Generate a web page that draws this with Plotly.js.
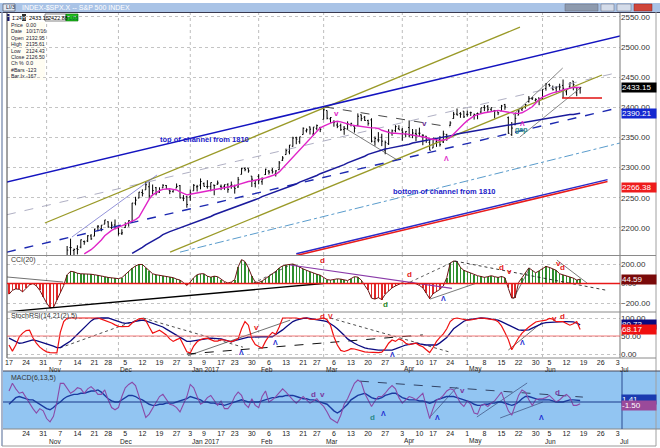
<!DOCTYPE html>
<html><head><meta charset="utf-8">
<script src="https://cdn.plot.ly/plotly-3.0.1.min.js"></script>
<style>html,body{margin:0;padding:0;background:#fff;overflow:hidden}#chart{width:660px;height:448px}</style>
</head><body><div id="chart"></div>
<script>
// ---------------- DATA (S&P 500 daily, 10/17/2016 - 6/16/2017, trading-day index) ----------------
const open=[2132.95,2138.31,2140.81,2142.51,2139.43,2148.50,2149.72,2136.97,2144.06,2132.23,2129.78,
2128.68,2109.43,2098.80,2083.79,2100.59,2129.92,2131.56,2167.49,2162.71,2165.64,2168.29,2177.53,2178.61,2186.85,2186.43,2201.56,2198.55,2206.27,2210.21,2200.76,2204.97,
2200.17,2191.12,2200.65,2207.26,2210.72,2241.13,2249.73,2258.83,2263.32,2268.35,2253.77,2266.81,2259.24,2266.50,2270.54,2262.93,2260.25,2266.23,2270.23,2249.50,2251.61,
2251.57,2261.60,2268.18,2271.14,2273.59,2268.59,2268.60,2271.14,2272.74,2269.14,2269.14,2271.90,2269.96,2267.78,2267.88,2288.88,2298.63,2299.02,2286.01,2274.02,
2285.59,2276.69,2288.54,2294.28,2295.87,2289.55,2296.70,2312.27,2321.72,2326.12,2335.58,2349.64,2343.01,2354.91,2361.11,2367.50,2355.73,2365.23,2366.08,
2380.13,2394.75,2380.92,2375.23,2370.74,2369.81,2363.49,2372.52,2371.56,2368.55,2370.34,2387.71,2383.71,2378.24,2379.32,2343.00,2345.97,2350.42,2329.11,2339.79,2356.54,2361.31,2364.82,
2362.34,2354.76,2366.59,2353.79,2356.59,2357.16,2353.92,2352.15,2341.98,2332.62,2342.53,2346.79,2342.69,2354.74,2370.33,2381.51,2388.98,2389.70,2393.68,
2388.50,2391.05,2386.50,2389.79,2392.37,2399.94,2401.58,2396.79,2394.84,2392.44,2393.98,2404.55,2382.95,2354.69,2371.37,2387.21,2397.04,2401.41,2409.54,2414.50,2411.67,2415.63,
2415.65,2431.28,2437.83,2431.92,2432.03,2434.27,2436.39,2425.88,2434.15,2443.75,2424.14,2431.24];
const high=[2135.61,2144.38,2148.44,2147.18,2142.63,2154.79,2151.44,2145.73,2147.13,2140.72,2133.25,
2131.45,2111.76,2102.56,2099.07,2132.00,2146.87,2170.10,2182.30,2165.92,2171.36,2180.84,2179.22,2188.06,2189.89,2198.70,2204.80,2204.72,2213.35,2211.14,2210.46,2214.10,
2202.60,2197.95,2209.42,2212.78,2241.63,2251.69,2259.80,2264.03,2277.53,2276.20,2272.12,2268.05,2267.47,2272.56,2271.23,2263.18,2263.79,2273.82,2271.31,2254.51,2253.58,
2263.88,2272.82,2271.50,2282.10,2275.49,2279.27,2275.32,2271.78,2278.68,2272.08,2272.01,2274.33,2276.96,2271.78,2284.63,2299.55,2300.99,2299.02,2286.01,2279.09,
2289.14,2283.97,2298.31,2296.18,2299.40,2295.91,2311.08,2319.23,2331.58,2337.58,2351.30,2351.31,2351.16,2366.71,2365.13,2368.26,2367.34,2371.54,2367.79,
2400.98,2394.75,2383.89,2378.80,2375.12,2373.09,2369.08,2376.86,2374.42,2368.55,2390.01,2388.10,2385.71,2379.55,2381.93,2351.81,2358.92,2356.22,2344.90,2363.78,2363.36,2370.42,2370.35,
2365.87,2360.53,2378.36,2364.16,2363.76,2366.37,2355.22,2352.72,2348.26,2349.14,2348.35,2352.63,2361.37,2356.18,2376.98,2392.48,2398.16,2392.10,2393.68,
2394.49,2392.93,2389.82,2391.43,2399.29,2403.87,2403.87,2399.74,2395.72,2392.44,2404.05,2405.77,2384.87,2375.74,2389.06,2395.46,2400.85,2405.58,2418.71,2416.68,2415.26,2415.99,
2430.06,2440.23,2439.55,2436.21,2435.28,2439.27,2446.20,2430.38,2441.49,2443.75,2433.95,2433.15];
const low=[2124.43,2135.49,2138.15,2133.44,2130.09,2146.91,2141.93,2131.59,2132.52,2119.36,2125.53,
2097.85,2094.00,2085.23,2083.79,2100.59,2123.56,2125.35,2151.17,2152.49,2156.08,2166.38,2172.20,2176.65,2180.38,2186.43,2194.51,2194.51,2206.27,2200.36,2198.15,2198.81,
2187.44,2188.37,2199.97,2202.21,2208.93,2237.57,2249.23,2252.37,2263.32,2248.44,2253.77,2254.24,2258.21,2266.14,2265.15,2256.08,2258.84,2266.15,2249.11,2244.56,2233.62,
2245.13,2261.60,2260.45,2264.06,2268.90,2265.27,2260.83,2254.25,2271.51,2262.81,2263.35,2258.41,2265.01,2257.02,2266.68,2288.88,2294.08,2291.62,2268.04,2267.21,
2272.44,2271.65,2287.88,2288.57,2290.16,2285.38,2296.61,2311.10,2321.42,2322.17,2334.81,2338.87,2339.58,2354.91,2358.34,2355.09,2352.87,2361.87,2358.96,
2380.13,2380.17,2374.42,2367.98,2365.51,2361.01,2354.54,2363.04,2368.52,2358.18,2368.94,2377.18,2377.64,2369.66,2341.90,2336.45,2342.13,2335.74,2322.25,2337.63,2352.94,2358.58,2362.60,
2344.73,2350.72,2350.52,2348.90,2344.00,2351.50,2337.25,2341.18,2328.95,2332.51,2334.54,2335.05,2340.91,2344.51,2369.19,2381.15,2386.78,2382.68,2382.36,
2384.83,2385.82,2379.75,2380.35,2389.38,2393.81,2392.44,2392.79,2381.74,2387.19,2393.94,2396.05,2356.21,2352.72,2370.43,2386.92,2393.88,2397.99,2408.01,2412.20,2409.43,2403.59,
2413.54,2427.71,2434.32,2428.12,2424.75,2427.94,2415.70,2419.97,2431.28,2428.34,2418.53,2422.88];
const close=[2126.50,2139.60,2144.29,2141.34,2141.16,2151.33,2143.16,2139.43,2133.04,2126.41,2126.15,
2111.72,2097.94,2088.66,2085.18,2131.52,2139.56,2163.26,2167.48,2164.45,2164.20,2180.39,2176.94,2187.12,2181.90,2198.18,2202.94,2204.72,2213.35,2201.72,2204.66,2198.81,
2191.08,2191.95,2204.71,2212.23,2241.35,2246.19,2259.53,2256.96,2271.72,2253.28,2262.03,2258.07,2262.53,2270.76,2265.18,2260.96,2263.79,2268.88,2249.92,2249.26,2238.83,
2257.83,2270.75,2269.00,2276.98,2268.90,2268.90,2275.32,2270.44,2274.64,2267.89,2271.89,2263.69,2271.31,2265.20,2280.07,2298.37,2296.68,2294.69,2280.90,2278.87,
2279.55,2280.85,2297.42,2292.56,2293.08,2294.67,2307.87,2316.10,2328.25,2337.58,2349.25,2347.22,2351.16,2365.38,2362.82,2363.81,2367.34,2369.75,2363.64,
2395.96,2381.92,2383.12,2375.31,2368.39,2362.98,2364.87,2372.60,2373.47,2365.45,2385.26,2381.38,2378.25,2373.47,2344.02,2348.45,2345.96,2343.98,2341.59,2358.57,2361.13,2368.06,2362.72,
2358.84,2360.16,2352.95,2357.49,2355.54,2357.16,2353.78,2344.93,2328.95,2349.01,2342.19,2338.17,2355.84,2348.69,2374.15,2388.61,2387.45,2388.77,2384.20,
2388.33,2391.17,2388.13,2389.52,2399.29,2399.38,2396.92,2399.63,2394.44,2390.90,2402.32,2400.67,2357.03,2365.72,2381.73,2394.02,2398.42,2404.39,2415.07,2415.82,2412.91,2411.80,
2430.06,2439.07,2436.10,2429.33,2433.14,2433.79,2431.77,2429.39,2440.35,2437.92,2432.46,2433.15];

const fastMAStart=22;
const fastMA=[2157,2160,2164,2169,2174,2180,2187,2192,2196,2199,
2201,2204,2206,2209,2211,2214,2218,2228,2239,2248,
2255,2259,2262,2264,2265,2265,2264,2263,2260,2257,
2255,2256,2257,2259,2260,2261,2262,2263,2264,2264,
2265,2266,2267,2268,2270,2272,2274,2276,2277,2278,
2279,2280,2281,2283,2285,2287,2289,2293,2299,2305,
2311,2317,2324,2330,2336,2342,2348,2354,2360,2366,
2369,2372,2374,2376,2377,2376,2374,2372,2371,2370,
2369,2368,2367,2366,2366,2366,2365,2362,2360,2358,
2357,2357,2356,2356,2356,2355,2355,2354,2353,2351,
2350,2348,2347,2346,2345,2346,2347,2350,2356,2362,
2368,2373,2378,2382,2386,2388,2390,2391,2392,2393,
2394,2395,2394,2393,2391,2390,2390,2390,2391,2394,
2397,2401,2407,2413,2417,2420,2422,2424,2425,2427,
2429,2431,2432,2433,2433,2433];
const ma50Start=36;
const ma50=[2158,2161,2165,2168,2172,2175,2178,2182,2185,2189,
2192,2194,2196,2198,2200,2203,2205,2207,2209,2211,
2213,2215,2217,2219,2222,2224,2226,2228,2230,2232,
2234,2236,2238,2241,2243,2245,2247,2249,2252,2254,
2256,2258,2260,2262,2265,2267,2269,2271,2273,2276,
2278,2280,2283,2285,2287,2290,2292,2294,2296,2298,
2301,2303,2305,2308,2310,2312,2315,2317,2319,2322,
2324,2326,2328,2330,2331,2332,2333,2335,2336,2337,
2338,2339,2341,2342,2343,2344,2345,2346,2347,2348,
2350,2351,2352,2353,2354,2356,2357,2358,2359,2360,
2361,2362,2363,2363,2364,2365,2366,2367,2368,2369,
2370,2371,2372,2373,2374,2375,2376,2377,2379,2380,
2381,2382,2383,2384,2384,2385,2386,2387,2388,2388,
2389,2390.21];

const cci=[-110,-70,-55,-60,-85,-50,-15,0,-25,-70,
-140,-200,-250,-245,-170,-90,-20,90,125,120,
105,100,100,100,95,90,85,75,70,62,
58,55,50,60,95,125,155,180,195,195,
160,130,100,90,85,80,72,65,60,45,
35,10,-20,15,60,90,100,100,75,65,
75,70,40,20,5,15,40,170,245,225,
160,75,15,10,25,50,75,100,125,160,
180,190,195,200,185,165,150,135,120,105,
95,85,60,40,35,40,48,45,35,30,
50,70,65,35,-20,-70,-150,-160,-145,-165,
-110,-75,-45,-25,-10,8,-5,12,6,-3,
-20,-45,-100,-155,-105,-80,-60,-25,60,210,
230,225,165,135,120,105,90,80,72,63,
70,80,70,62,72,60,-50,-150,-145,10,
60,110,160,135,110,130,150,175,165,148,
135,100,90,80,68,55,35,44.59];

const stochK=[25,8,25,48,58,65,66,45,30,19,
12,6,4,3,3,60,90,100,100,100,
100,100,100,100,100,100,100,97,94,91,
86,81,77,76,76,77,86,93,98,99,
93,75,58,62,66,60,53,42,35,40,
44,25,6,3,22,34,40,43,44,40,
36,36,40,39,36,34,38,42,70,90,
80,42,26,20,16,35,50,60,55,75,
100,100,99,100,100,98,100,100,97,96,
96,98,100,95,80,48,25,10,7,10,
15,14,11,9,6,5,4,3,4,5,
15,30,39,35,42,38,30,26,28,30,
24,20,12,4,18,35,46,56,70,90,
98,100,98,96,94,95,97,99,100,99,
98,96,95,90,78,60,40,12,30,45,
58,67,75,82,89,91,92,94,99,97,
90,89,90,85,80,84,90,68.17];
const stochD=[44,40,34,30,31,33,36,39,37,34,
32,30,26,22,18,18,24,30,36,45,
55,65,75,84,92,98,100,100,100,100,
97,93,90,87,85,86,88,91,93,94,
92,89,86,83,80,75,69,63,57,52,
46,40,35,35,37,39,41,42,43,44,
44,44,42,39,36,34,37,40,43,46,
47,47,48,48,48,48,48,48,54,60,
67,75,83,90,94,97,99,100,98,96,
94,93,92,90,85,78,70,62,52,42,
35,30,25,20,17,15,13,12,11,11,
11,11,11,14,18,21,25,27,29,30,
28,26,25,25,25,25,31,38,46,58,
70,77,84,91,95,97,98,99,100,100,
99,97,96,94,90,85,80,75,70,67,
66,66,67,72,77,82,85,87,88,89,
90,90,90,90,90,89,86,80.73];

const macdLine=[10,17,12,8,9,4,-2,-6,-10,-6,
-8,-15,-18,-13,0,17,17,12,8,10,
13,12,8,12,14,11,7,7,11,2,
-5,-7,-5,5,13,16,18,15,5,-5,
-14,-11,-6,0,5,7,3,-2,-3,-5,
-9,-2,5,16,13,5,-2,0,4,6,
1,-3,1,-6,-6,-2,5,9,6,-2,
-5,3,-3,-5,5,10,0,2,5,9,
12,9,5,2,-1,2,5,2,-1,1,
3,-1,-4,-9,-15,-17,-19,-12,-2,3,
10,17,20,18,8,2,-4,1,5,5,
8,12,15,12,4,-1,2,5,4,2,
5,8,-4,-15,-6,2,3,6,10,12,
11,5,-1,-4,1,-2,-10,-11,-3,-2,
-4,-1,1,5,9,0,-8,-12,-2,6,
11,9,2,-3,2,3,3,4,6,3,
0,2,5,7,4,-3,-3,-1.5];
const macdSignal=[-2,1,4,5,4,3,2,2,0,-2,
-4,-6,-7,-5,-2,0,3,5,6,7,
7,8,8,9,10,10,11,9,6,3,
1,0,0,2,4,6,6,5,3,2,
0,-2,-3,-3,-2,-2,-1,-1,-1,0,
1,2,3,5,4,3,2,0,0,-1,
-1,-2,-2,-3,-2,-1,0,1,2,1,
0,0,0,0,1,2,3,4,4,5,
5,6,6,6,5,4,3,3,2,2,
1,0,-1,-2,-5,-8,-10,-8,-5,-2,
2,4,6,7,8,6,4,3,3,4,
6,7,8,8,6,4,3,2,2,2,
1,1,0,-1,0,2,3,4,5,5,
5,4,3,2,1,0,-2,-3,-3,-2,
-2,-1,-1,0,0,-1,-2,-3,-2,0,
3,5,5,4,3,2,2,2,2,1,
0,0,0,1,2,2,2,1.41];

// axis labels (trading-day index of each label)
const dayTickIdx=[0,5,10,15,20,25,29,34,39,44,49,53,57,62,66,71,76,81,86,90,95,100,105,110,115,120,124,129,134,139,144,149,154,158,163,168,173,178];
const dayTickText=['17','24','31','7','14','21','28','5','12','19','27','3','9','17','23','30','6','13','21','27','6','13','20','27','3','10','17','24','1','8','15','22','30','5','12','19','26','3'];
const monthIdx=[11,32,53,73,92,115,134,156,178];
const monthText=['Nov','Dec','Jan 2017','Feb','Mar','Apr','May','Jun','Jul'];
const priceTicks=[2200,2250,2300,2350,2400,2450,2500,2550];

// drawn trendlines: [trading-day index], [value]
const chanTopX=[-1,179], chanTopY=[2275.8,2518.8];
const chanBotX=[84,175], chanBotY=[2154.3,2277.2];
const chanBotBlueY=[2157.3,2280.2];
const oliveUpX=[10.5,149.4], oliveUpY=[2208.3,2533];
const oliveLoX=[47.1,173.4], oliveLoY=[2160,2453.7];
const midDashX=[-0.6,178], midDashY=[2160,2399];
const lowDotX=[50,178.7], lowDotY=[2160,2341];
const grayDashX=[-0.6,178.7], grayDashY=[2222,2458.7];
const thinPurX=[18.4,43.3], thinPurY=[2185,2288];
const marDashX=[92.4,129], marDashY=[2400.7,2367.5];
const marThinX=[97.7,113.5], marThinY=[2367.5,2312.8];
const mayAX=[147.4,161.9], mayAY=[2387.4,2465.3];
const mayBX=[149.4,167], mayBY=[2351,2432];
const supportX=[161.7,173.4], supportY=[2415.6,2415.6];

const cciTrendX=[-0.6,91.8], cciTrendY=[-290,0];
const cciShortX=[-0.6,15.8], cciShortY=[67,15];
const cciPurX=[82.2,129.5], cciPurY=[190,-50];
const cciDot1X=[71.3,82.2], cciDot1Y=[0,190];
const cciDot2X=[117.3,130.4], cciDot2Y=[15,230];
const cciDot3X=[130.4,174.8], cciDot3Y=[230,-70];
const cciThin1X=[123.1,136.8], cciThin1Y=[-160,5];
const cciThin2X=[147.4,152.3], cciThin2Y=[-160,160];
const cciThin3X=[160.2,169], cciThin3Y=[240,5];

const stDot1X=[14.9,39.2], stDot1Y=[17,100];
const stDot2X=[39.2,68.4], stDot2Y=[100,19];
const stThinX=[52.3,82.2], stThinY=[-5,94];
const stDashX=[52,121], stDashY=[0,53];
const stDot3X=[93.9,129], stDot3Y=[100,5];
const stThin2X=[146,156], stThin2Y=[11,89];

const mdDashX=[102.6,167.8], mdDashY=[19,4.5];
const mdThin1X=[123.1,131], mdThin1Y=[-13.6,13.6];
const mdThin2X=[136.8,151.5], mdThin2Y=[-13.6,17.3];
const mdThin3X=[143.6,156.1], mdThin3Y=[-14.5,0];

// ---------------- CHART ----------------
const W=660,H=448;
const py=y=>1-y/H, pxf=x=>x/W;
const FONT='Liberation Sans, Arial, sans-serif';
const idx=close.map((_,i)=>i);
const fastX=fastMA.map((_,i)=>i+fastMAStart);
const ma50X=ma50.map((_,i)=>i+ma50Start);
const last=close.length-1;

function ln(x,y,xa,ya,color,width,dash){
  return {type:'scatter',mode:'lines',x:x,y:y,xaxis:xa,yaxis:ya,hoverinfo:'skip',showlegend:false,
    line:{color:color,width:width,dash:dash||'solid'}};
}
const traces=[];
// main price panel
traces.push(ln(grayDashX,grayDashY,'x','y','#9a9ab4',0.8,'dash'));
traces.push(ln(lowDotX,lowDotY,'x','y','#5a9ccc',1,'dashdot'));
traces.push(ln(oliveUpX,oliveUpY,'x','y','#9a9a28',1.3));
traces.push(ln(oliveLoX,oliveLoY,'x','y','#9a9a28',1.3));
traces.push(ln(chanTopX,chanTopY,'x','y','#1414c0',1.5));
traces.push(ln(chanBotX,chanBotBlueY,'x','y','#2a2ac8',1.5));
traces.push(ln(chanBotX,chanBotY,'x','y','#e81c1c',1.5));
traces.push(ln(midDashX,midDashY,'x','y','#1c28b0',1.4,'dash'));
traces.push(ln(thinPurX,thinPurY,'x','y','#6464c8',0.7));
traces.push(ln(marDashX,marDashY,'x','y','#333333',0.9,'dash'));
traces.push(ln(marThinX,marThinY,'x','y','#444444',0.7));
traces.push(ln(mayAX,mayAY,'x','y','#555555',0.7));
traces.push(ln(mayBX,mayBY,'x','y','#555555',0.7));
traces.push(ln(ma50X,ma50,'x','y','#1a1a9c',1.5));
traces.push(ln(fastX,fastMA,'x','y','#e024c8',1.4));
traces.push(ln(supportX,supportY,'x','y','#e01010',1.5));
traces.push({type:'ohlc',x:idx,open:open,high:high,low:low,close:close,xaxis:'x',yaxis:'y',
  increasing:{line:{color:'#000',width:1}},decreasing:{line:{color:'#000',width:1}},
  tickwidth:0.32,hoverinfo:'skip',showlegend:false});
// CCI panel
traces.push({type:'bar',x:idx,y:cci,xaxis:'x',yaxis:'y2',width:0.45,hoverinfo:'skip',showlegend:false,
  marker:{color:cci.map(v=>v>=0?'#2e8f2e':'#e02a2a'),line:{width:0}}});
traces.push(ln(idx,cci,'x','y2','#6a1414',1));
traces.push(ln(cciTrendX,cciTrendY,'x','y2','#000',1.3));
traces.push(ln(cciShortX,cciShortY,'x','y2','#333',0.7));
traces.push(ln(cciPurX,cciPurY,'x','y2','#8a3aa8',1.1));
traces.push(ln(cciDot1X,cciDot1Y,'x','y2','#333',0.8,'dot'));
traces.push(ln(cciDot2X,cciDot2Y,'x','y2','#333',0.8,'dot'));
traces.push(ln(cciDot3X,cciDot3Y,'x','y2','#222',0.9,'dot'));
traces.push(ln(cciThin1X,cciThin1Y,'x','y2','#444',0.7));
traces.push(ln(cciThin2X,cciThin2Y,'x','y2','#444',0.7));
traces.push(ln(cciThin3X,cciThin3Y,'x','y2','#444',0.7));
// StochRSI panel
traces.push(ln(stDot1X,stDot1Y,'x','y3','#222',0.8,'dot'));
traces.push(ln(stDot2X,stDot2Y,'x','y3','#222',0.8,'dot'));
traces.push(ln(stThinX,stThinY,'x','y3','#333',0.7));
traces.push(ln(stDashX,stDashY,'x','y3','#111',1,'dash'));
traces.push(ln(stDot3X,stDot3Y,'x','y3','#222',0.8,'dot'));
traces.push(ln(stThin2X,stThin2Y,'x','y3','#333',0.7));
traces.push(ln(idx,stochD,'x','y3','#0a0a80',1.3));
traces.push(ln(idx,stochK,'x','y3','#f01010',1.2));
// MACD panel
traces.push(ln(mdDashX,mdDashY,'x2','y4','#334466',1,'dash'));
traces.push(ln(mdThin1X,mdThin1Y,'x2','y4','#3a4a7a',0.7));
traces.push(ln(mdThin2X,mdThin2Y,'x2','y4','#3a4a7a',0.7));
traces.push(ln(mdThin3X,mdThin3Y,'x2','y4','#3a4a7a',0.7));
traces.push(ln(idx,macdSignal,'x2','y4','#1a3aa0',1.4));
traces.push(ln(idx,macdLine,'x2','y4','#8a4aa8',1.1));

// ---------------- LAYOUT ----------------
const xr=[-0.585,178.65];
const xdom=[pxf(7),pxf(620)];
const tickF={family:FONT,size:7,color:'#222'};
const yCommon={side:'right',anchor:'x',ticks:'',zeroline:false,showline:false,tickfont:{family:FONT,size:8,color:'#333'},
  tickformat:'.2f',gridcolor:'#c4c4c4',griddash:'dot',gridwidth:1,fixedrange:true};

const shapes=[];
const P=(x0,y0,x1,y1,fill,lc,lw)=>shapes.push({type:'rect',xref:'paper',yref:'paper',x0:pxf(x0),x1:pxf(x1),y0:py(y1),y1:py(y0),
  fillcolor:fill,line:{color:lc||'rgba(0,0,0,0)',width:lw||0},layer:'below'});
const L=(x0,y0,x1,y1,c,w,d,layer)=>shapes.push({type:'line',xref:'paper',yref:'paper',x0:pxf(x0),x1:pxf(x1),y0:py(y0),y1:py(y1),
  line:{color:c,width:w,dash:d||'solid'},layer:layer||'above'});
// window chrome
P(0,3,660,12,'#a9c3e6');
P(3,4,15,11,'#dfe8f4','#445',0.6);
P(565,4,598,11,'#8d9aae','#667',0.5);
P(601,4,614,11,'#d4dcea','#667',0.5);
P(617,4,631,11,'#d4dcea','#667',0.5);
P(634,4,652,11,'#d0453a','#822',0.5);
L(0,12.5,660,12.5,'#3a3a50',1);
L(2,12,2,446,'#8a9ab8',1.5);
L(656,12,656,446,'#a0a0a0',1);
L(2,446,656,446,'#9a9a9a',1);
// MACD background
P(3,371,660,429,'rgb(146,197,242)');
// info box
P(7,22,45,80,'#fffdf2');
P(7,14,9.5,21,'#1a1a70');
P(22,14,26,21,'#303030');
P(45,14,66,21,'#ffffff','#333',0.6);
P(66,14,78,21,'#22c022','#060',0.6);
// month grid lines
monthIdx.slice(0,8).forEach(m=>{
  ['y','y2','y3'].forEach(ya=>shapes.push({type:'line',xref:'x',yref:ya+' domain',x0:m,x1:m,y0:0,y1:1,
    line:{color:'#bdbdbd',width:1,dash:'dot'},layer:'below'}));
});
// panel borders & reference lines
L(7,13,7,358,'#444',1);
L(620,13,620,358,'#777',1);
L(7,255.5,656,255.5,'#8a8a8a',1);
L(7,312,656,312,'#8a8a8a',1);
L(7,358,656,358,'#8a8a8a',1);
L(3,371,660,371,'#4a4a5a',1.2);
L(3,429,660,429,'#888',1);
L(622,371,622,429,'#2a4a90',1);
shapes.push({type:'line',xref:'paper',yref:'y2',x0:pxf(7),x1:pxf(620),y0:0,y1:0,line:{color:'#e81818',width:1.4}});
shapes.push({type:'line',xref:'paper',yref:'y3',x0:pxf(7),x1:pxf(620),y0:50,y1:50,line:{color:'#f06a6a',width:0.9}});
shapes.push({type:'line',xref:'paper',yref:'y4',x0:pxf(3),x1:pxf(622),y0:0,y1:0,line:{color:'#1a3a8a',width:1.1}});

const ann=[];
const T=(o)=>ann.push(Object.assign({showarrow:false,font:{family:FONT,size:7,color:'#222'}},o));
// title bar text
T({xref:'paper',yref:'paper',x:pxf(20),y:py(7.5),xanchor:'left',yanchor:'middle',text:'INDEX-$SPX.X -- S&P 500 INDEX',font:{family:FONT,size:7,color:'#ffffff'}});
T({xref:'paper',yref:'paper',x:pxf(4),y:py(7.5),xanchor:'left',yanchor:'middle',text:'LI/3',font:{family:FONT,size:5.5,color:'#223'}});
// info box
T({xref:'paper',yref:'paper',x:pxf(9.5),y:py(17.5),xanchor:'left',yanchor:'middle',text:'1.24',font:{family:FONT,size:5,color:'#000'}});
T({xref:'paper',yref:'paper',x:pxf(24),y:py(17.5),xanchor:'center',yanchor:'middle',text:'H',font:{family:FONT,size:5,color:'#fff'}});
T({xref:'paper',yref:'paper',x:pxf(26.5),y:py(17.5),xanchor:'left',yanchor:'middle',text:high[last].toFixed(2),font:{family:FONT,size:5.5,color:'#000'}});
T({xref:'paper',yref:'paper',x:pxf(46),y:py(17.5),xanchor:'left',yanchor:'middle',text:low[last].toFixed(2),font:{family:FONT,size:5.5,color:'#000'}});
T({xref:'paper',yref:'paper',x:pxf(67),y:py(17.5),xanchor:'left',yanchor:'middle',text:'L03',font:{family:FONT,size:5.5,color:'#063'}});
const infoLab=['Price','Date','Open','High','Low','Close','Ch %','#Bars','Bar Ix'];
const infoVal=['0.00','10/17/16',open[0].toFixed(2),high[0].toFixed(2),low[0].toFixed(2),close[0].toFixed(2),'0.0','-123','-167'];
infoLab.forEach((l,i)=>{
  T({xref:'paper',yref:'paper',x:pxf(9),y:py(25+i*6.4),xanchor:'left',yanchor:'middle',text:l,font:{family:FONT,size:5.2,color:'#223'}});
  T({xref:'paper',yref:'paper',x:pxf(24),y:py(25+i*6.4),xanchor:'left',yanchor:'middle',text:infoVal[i],font:{family:FONT,size:5.2,color:'#223'}});
});
// panel titles
T({xref:'paper',yref:'paper',x:pxf(9),y:py(259.5),xanchor:'left',yanchor:'middle',text:'CCI(20)',font:{family:FONT,size:7,color:'#333'}});
T({xref:'paper',yref:'paper',x:pxf(9),y:py(316),xanchor:'left',yanchor:'middle',text:'StochRSI(14,21(2),5)',font:{family:FONT,size:7,color:'#333'}});
T({xref:'paper',yref:'paper',x:pxf(9),y:py(378),xanchor:'left',yanchor:'middle',text:'MACD(6,13,5)',font:{family:FONT,size:7,color:'#333'}});
// month labels (second row under the day labels)
monthIdx.forEach((m,i)=>{
  T({xref:'x',yref:'paper',x:m,y:py(369),xanchor:'left',yanchor:'middle',text:monthText[i],font:{family:FONT,size:6.6,color:'#222'}});
  T({xref:'x2',yref:'paper',x:m,y:py(441),xanchor:'left',yanchor:'middle',text:monthText[i],font:{family:FONT,size:6.6,color:'#222'}});
});
// channel labels
T({xref:'paper',yref:'paper',x:pxf(158),y:py(133),text:'<b>top of channel from 1810</b>',font:{family:FONT,size:7.5,color:'#1a1ac8'}});
T({xref:'paper',yref:'paper',x:pxf(498),y:py(191),text:'<b>bottom of channel from 1810</b>',font:{family:FONT,size:7.5,color:'#1a1ac8'}});
// chart marks
const M=(xa,ya,x,y,t,c,s)=>T({xref:xa,yref:ya,x:x,y:y,text:'<b>'+t+'</b>',font:{family:FONT,size:s||8,color:c}});
const PINK='#e024c8',RED='#e41a1a',BLUE='#1a2ad0',PURP='#7a3aa0';
M('x','y',95.9,2390,'v',PINK);
M('x','y',121.6,2374,'v','#6a3090');
M('x','y',128,2316,'Λ',PINK,7);
M('x','y',150,2374,'Λ',PINK,7);
M('x','y',149.8,2362,'gap','#2a8a8a',7);
M('x','y2',91.8,241,'d',RED);
M('x','y2',117,97,'d',RED);
M('x','y2',110,-220,'d','#2a8a2a');
M('x','y2',127,-149,'Λ',BLUE,7);
M('x','y2',143.9,169,'d',RED);
M('x','y2',146.2,128,'v',RED);
M('x','y2',160.8,210,'v',RED);
M('x','y2',161.9,159,'d',RED);
M('x','y3',72.5,75,'v',RED);
M('x','y3',68.1,3,'Λ',BLUE,7);
M('x','y3',78,33,'Λ',BLUE,7);
M('x','y3',91.6,104,'d',RED);
M('x','y3',94,104,'V',RED,7);
M('x','y3',112,-2,'Λ',BLUE,7);
M('x','y3',150,33,'Λ',BLUE,7);
M('x','y3',159.6,100,'v',RED);
M('x','y3',161.9,104,'d',RED);
M('x2','y4',88.9,6.4,'d',PURP);
M('x2','y4',91.6,6.4,'v',PURP);
M('x2','y4',106.4,-14.5,'d','#2a8a8a');
M('x2','y4',109.6,-10,'Λ',BLUE,7);
M('x2','y4',125.4,-13.6,'Λ',BLUE,7);
M('x2','y4',132.5,10.9,'v',PURP);
M('x2','y4',155.6,-14.5,'Λ',BLUE,7);
M('x2','y4',160.5,9.1,'d',PURP);
// value boxes on the right scale
const B=(ya,v,txt,bg)=>T({xref:'paper',yref:ya,x:pxf(621),y:v,xanchor:'left',yanchor:'middle',text:txt,bgcolor:bg,
  width:34,align:'left',borderpad:0,font:{family:FONT,size:8,color:'#fff'}});
B('y',close[last],close[last].toFixed(2),'#000');
B('y',ma50[ma50.length-1],ma50[ma50.length-1].toFixed(2),'#1428d0');
B('y',chanBotY[0]+(last-chanBotX[0])*(chanBotY[1]-chanBotY[0])/(chanBotX[1]-chanBotX[0]),'2266.38','#ee1c1c');
B('y2',cci[last],cci[last].toFixed(2),'#7a0a0a');
B('y3',stochD[last]+2,stochD[last].toFixed(2),'#0a0a80');
B('y3',stochK[last],stochK[last].toFixed(2),'#f01010');
B('y4',macdSignal[last]+0.8,macdSignal[last].toFixed(2),'#1a3ab0');
B('y4',macdLine[last]-1.2,macdLine[last].toFixed(2),'#9a4a9a');

const layout={width:W,height:H,margin:{l:0,r:0,t:0,b:0},paper_bgcolor:'#ffffff',plot_bgcolor:'rgba(0,0,0,0)',
  showlegend:false,bargap:0,font:{family:FONT},
  xaxis:{domain:xdom,range:xr,anchor:'y3',tickmode:'array',tickvals:dayTickIdx,ticktext:dayTickText,ticks:'',
    showgrid:false,zeroline:false,showline:false,tickfont:tickF,rangeslider:{visible:false},fixedrange:true},
  xaxis2:{domain:xdom,range:xr,anchor:'y4',tickmode:'array',tickvals:dayTickIdx.slice(1),ticktext:dayTickText.slice(1),ticks:'',
    showgrid:false,zeroline:false,showline:false,tickfont:tickF,rangeslider:{visible:false},fixedrange:true},
  yaxis:Object.assign({},yCommon,{domain:[py(255),py(13)],range:[2155.2,2556.5],tickvals:priceTicks,showgrid:true}),
  yaxis2:Object.assign({},yCommon,{domain:[py(311),py(256)],range:[-282,282],tickvals:[-200,0,200],showgrid:true}),
  yaxis3:Object.assign({},yCommon,{domain:[py(357),py(313)],range:[-8.3,113.9],tickvals:[0,50,100],showgrid:true}),
  yaxis4:Object.assign({},yCommon,{domain:[py(428),py(372)],range:[-23.6,27.3],anchor:'x2',showticklabels:false,showgrid:false}),
  shapes:shapes,annotations:ann};
Plotly.newPlot('chart',traces,layout,{staticPlot:true,displayModeBar:false});
</script>
</body></html>
